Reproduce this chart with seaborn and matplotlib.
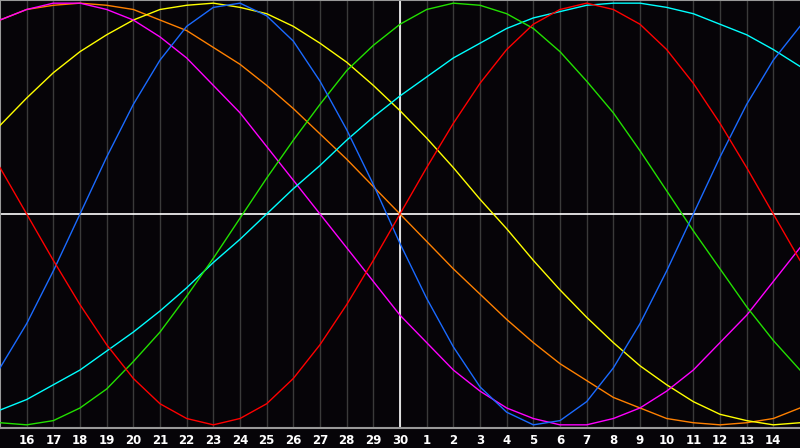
import numpy as np
import pandas as pd
import matplotlib
matplotlib.use("Agg")
import matplotlib.pyplot as plt
import seaborn as sns

# days shown on the chart (15th .. 15th of next month, day 30 in the middle)
days = list(range(15, 46))
day_labels = [str(d) if d <= 30 else str(d - 30) for d in range(16, 45)]

# cycle values in percent, one per day
red = [22, 0, -22, -43, -62, -78, -90, -97, -100, -97, -90, -78, -62, -43, -22, 0,
       22, 43, 62, 78, 90, 97, 100, 97, 90, 78, 62, 43, 22, 0, -22]
blue = [-73, -52, -27, 0, 27, 52, 73, 89, 98, 100, 94, 82, 63, 40, 14, -14,
        -40, -63, -82, -94, -100, -98, -89, -73, -52, -27, 0, 27, 52, 73, 89]
green = [-99, -100, -98, -92, -83, -70, -56, -39, -21, -2, 17, 35, 52, 68, 80, 90,
         97, 100, 99, 95, 88, 77, 63, 48, 30, 11, -8, -26, -44, -60, -74]
cyan = [-93, -88, -81, -74, -65, -56, -46, -35, -23, -12, 0, 12, 23, 35, 46, 56,
        65, 74, 81, 88, 93, 96, 99, 100, 100, 98, 95, 90, 85, 78, 70]
yellow = [42, 55, 67, 77, 85, 92, 97, 99, 100, 98, 95, 89, 81, 72, 61, 49,
          36, 22, 7, -7, -22, -36, -49, -61, -72, -81, -89, -95, -98, -100, -99]
orange = [92, 97, 99, 100, 99, 97, 92, 87, 79, 71, 61, 50, 38, 26, 13, 0,
          -13, -26, -38, -50, -61, -71, -79, -87, -92, -97, -99, -100, -99, -97, -92]
magenta = [92, 97, 100, 100, 97, 92, 84, 74, 61, 48, 32, 16, 0, -16, -32, -48,
           -61, -74, -84, -92, -97, -100, -100, -97, -92, -84, -74, -61, -48, -32, -16]

series = {"orange": orange, "yellow": yellow, "magenta": magenta, "cyan": cyan,
          "green": green, "blue": blue, "red": red}
colors = {"orange": "#ff8000", "yellow": "#ffff00", "magenta": "#ff00ff", "cyan": "#00ffff",
          "green": "#22e000", "blue": "#1a6aff", "red": "#ff0000"}

df = pd.concat([pd.DataFrame({"day": days, "value": v, "cycle": k}) for k, v in series.items()])

bg = "#060408"
fig = plt.figure(figsize=(8, 4.48), dpi=100, facecolor=bg)
ax = fig.add_axes([0, 20 / 448, 1, 428 / 448])
ax.set_facecolor(bg)

# day grid
for d in range(16, 45):
    ax.axvline(d, color="#3a3a3a", lw=1, zorder=0)

ax.axvline(30, color="white", lw=1.2, zorder=1)
ax.axhline(0, color="white", lw=1.2, zorder=1)

sns.lineplot(data=df, x="day", y="value", hue="cycle", palette=colors, lw=1,
             legend=False, ax=ax, zorder=3)

ax.set_xlim(15, 45)
ax.set_ylim(-101.5, 101.5)
ax.set_xticks(range(16, 45))
ax.set_xticklabels(day_labels)
ax.tick_params(axis="x", length=0, pad=4, colors="white", labelsize=8.5)
for t in ax.get_xticklabels():
    t.set_fontweight("bold")
ax.set_yticks([])
ax.set_xlabel("")
ax.set_ylabel("")

for side in ["left", "top", "bottom"]:
    ax.spines[side].set_color("#999999")
    ax.spines[side].set_linewidth(1.5)
ax.spines["right"].set_visible(False)

fig.savefig("out.png", dpi=100, facecolor=bg)
